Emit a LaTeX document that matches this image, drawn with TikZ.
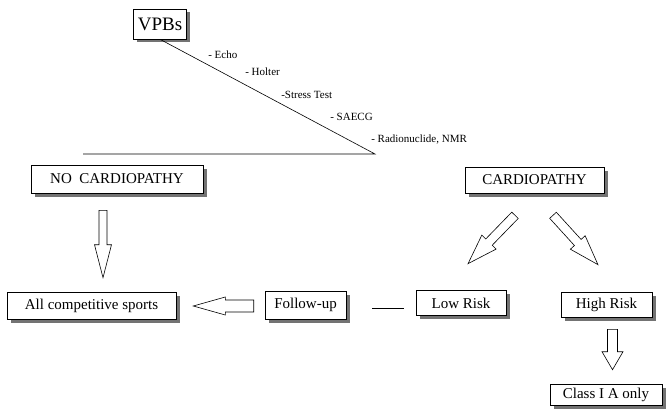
\documentclass[tikz,border=0pt]{standalone}
\usepackage{fontspec}
\setmainfont{Liberation Serif}
\usetikzlibrary{calc,shadows}
\tikzset{
  box/.style={draw, fill=white, inner sep=0pt, font=\fontsize{15}{17}\selectfont,
    drop shadow={shadow xshift=3.5pt, shadow yshift=-3.5pt, fill=black!55, opacity=1}},
  test/.style={anchor=west, inner sep=0pt, font=\fontsize{11}{13}\selectfont},
  hollow/.style n args={3}{to path={
    let \p1=(\tikztostart), \p2=(\tikztotarget),
        \n1={atan2(\y2-\y1,\x2-\x1)}, \n2={veclen(\x2-\x1,\y2-\y1)} in
    {[shift={(\p1)}, rotate=\n1]
     (0,#1) -- (\n2-#3,#1) -- (\n2-#3,#2) -- (\n2,0) -- (\n2-#3,-#2)
     -- (\n2-#3,-#1) -- (0,-#1) -- cycle}}}
}
\begin{document}
\begin{tikzpicture}[x=1pt,y=1pt,line width=0.6pt]
\useasboundingbox (0,0) rectangle (668,408);
\node[box, minimum width=53pt, minimum height=30pt, font=\fontsize{19}{21}\selectfont] (vpbs) at (160,384) {VPBs};
\node[box, minimum width=172pt, minimum height=28pt] (nocard) at (117,229) {NO~~CARDIOPATHY};
\node[box, minimum width=139pt, minimum height=26pt] (card) at (534.5,228) {CARDIOPATHY};
\node[box, minimum width=169pt, minimum height=27pt] (all) at (91.5,102.5) {All competitive sports};
\node[box, minimum width=81pt, minimum height=28pt] (fu) at (305.5,103) {Follow-up};
\node[box, minimum width=90pt, minimum height=25pt] (low) at (461,105) {Low Risk};
\node[box, minimum width=91pt, minimum height=25pt] (hi) at (606.5,103) {High Risk};
\node[box, minimum width=112pt, minimum height=21pt] (cls) at (606,13.5) {Class I A only};

\coordinate (split) at (375,254);
\coordinate (lend) at (83,254);
\draw (vpbs.south) -- (split) -- (lend);
\node[test] (echo) at (208,353) {- Echo};
\node[test] (holter) at (245,336) {- Holter};
\node[test] (stress) at (281,313) {-Stress Test};
\node[test] (saecg) at (330,291) {- SAECG};
\node[test] (radio) at (371,268) {- Radionuclide, NMR};

\draw ([shift={(-14,-17)}]nocard.south) to[hollow={4}{8.5}{33}] ([shift={(11.5,14)}]all.north);
\draw ([shift={(-11,-1)}]fu.west) to[hollow={6}{9}{32}] ([shift={(17,-0.5)}]all.east);
\draw[shorten <=26pt, shorten >=12pt] ([yshift=-3pt]fu.east) -- ([yshift=-3pt]fu.east -| low.west);
\draw ([shift={(-19.5,-22)}]card.south) to[hollow={4.5}{10}{30}] ([shift={(7,26.5)}]low.north);
\draw ([shift={(18.5,-22)}]card.south) to[hollow={4.5}{10}{30}] ([shift={(-8.5,27.5)}]hi.north);
\draw ([shift={(6,-11.5)}]hi.south) to[hollow={5}{10.5}{18}] ([shift={(6.5,14)}]cls.north);
\end{tikzpicture}
\end{document}
